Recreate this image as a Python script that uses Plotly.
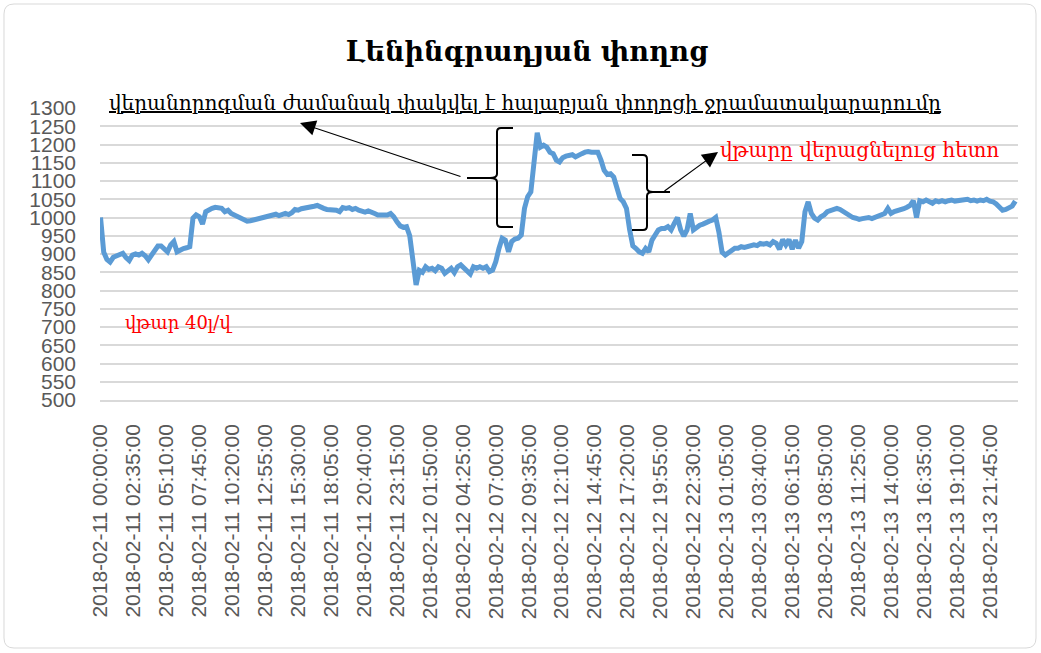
import pandas as pd
import plotly.graph_objects as go

# Flow readings, 15-minute steps, one list per day (l/s)
day_11_feb = [
    1000, 905, 885, 878,   891, 894, 897, 902,   890, 882, 897, 900,
    897, 902, 895, 884,    897, 911, 922, 922,   915, 906, 925, 934,
    906, 911, 915, 917,    920, 998, 1007, 1002, 982, 1016, 1022, 1025,
    1028, 1028, 1025, 1016, 1020, 1011, 1007, 1000, 997, 993, 990, 991,
    993, 994, 996, 998,    1002, 1002, 1007, 1009, 1005, 1009, 1011, 1008,
    1013, 1022, 1020, 1024, 1025, 1028, 1028, 1031, 1033, 1028, 1025, 1022,
    1022, 1020, 1020, 1016, 1027, 1025, 1027, 1022, 1025, 1020, 1018, 1015,
    1018, 1016, 1011, 1007, 1007, 1009, 1007, 1011, 1002, 988, 977, 973,
]
day_12_feb = [
    975, 950, 870, 815,    855, 850, 865, 858,   861, 854, 865, 861,
    847, 856, 861, 849,    865, 870, 863, 856,   845, 865, 861, 865,
    861, 865, 852, 856,    879, 915, 943, 938,   906, 934, 941, 943,
    952, 1025, 1057, 1070, 1166, 1232, 1193, 1198, 1193, 1179, 1175, 1157,
    1152, 1164, 1168, 1170, 1172, 1166, 1172, 1175, 1179, 1181, 1179, 1179,
    1179, 1157, 1129, 1118, 1120, 1111, 1084, 1052, 1043, 1025, 966, 922,
    915, 906, 902, 915,    906, 938, 952, 966,   970, 970, 975, 966,
    984, 1000, 966, 949,   966, 1011, 966, 973,  979, 982, 988, 990,
]
day_13_feb = [
    993, 1000, 960, 905,   897, 904, 911, 916,   916, 920, 918, 920,
    922, 925, 923, 929,    927, 929, 925, 934,   929, 913, 940, 925,
    940, 913, 938, 916,    934, 1016, 1043, 1011, 998, 993, 1002, 1007,
    1016, 1018, 1020, 1025, 1022, 1016, 1011, 1007, 1000, 998, 995, 997,
    998, 1000, 997, 1000,  1004, 1007, 1011, 1025, 1011, 1016, 1018, 1020,
    1024, 1028, 1033, 1046, 1000, 1046, 1043, 1048, 1043, 1039, 1046, 1043,
    1046, 1043, 1046, 1048, 1045, 1046, 1048, 1046, 1050, 1046, 1048, 1045,
    1048, 1046, 1050, 1045, 1043, 1037, 1028, 1020, 1022, 1025, 1031, 1045,
]

tick_labels = [
    "2018-02-11 00:00:00", "2018-02-11 02:35:00", "2018-02-11 05:10:00",
    "2018-02-11 07:45:00", "2018-02-11 10:20:00", "2018-02-11 12:55:00",
    "2018-02-11 15:30:00", "2018-02-11 18:05:00", "2018-02-11 20:40:00",
    "2018-02-11 23:15:00", "2018-02-12 01:50:00", "2018-02-12 04:25:00",
    "2018-02-12 07:00:00", "2018-02-12 09:35:00", "2018-02-12 12:10:00",
    "2018-02-12 14:45:00", "2018-02-12 17:20:00", "2018-02-12 19:55:00",
    "2018-02-12 22:30:00", "2018-02-13 01:05:00", "2018-02-13 03:40:00",
    "2018-02-13 06:15:00", "2018-02-13 08:50:00", "2018-02-13 11:25:00",
    "2018-02-13 14:00:00", "2018-02-13 16:35:00", "2018-02-13 19:10:00",
    "2018-02-13 21:45:00",
]

title_text = "Լենինգրադյան փողոց"
note_closed = "վերանորոգման ժամանակ փակվել է հալաբյան փողոցի ջրամատակարարումը"
note_after = "վթարը վերացնելուց հետո"
note_leak = "վթար 40լ/վ"

flow = day_11_feb + day_12_feb + day_13_feb
times = pd.date_range("2018-02-11 00:00", periods=len(flow), freq="15min")

W, H = 1041, 653
L, R, T, B = 100, 1018, 108, 400   # plot area in pixels


def pp(x, y):
    """pixel position -> paper coordinates"""
    return (x - L) / (R - L), (B - y) / (B - T)


def path(points):
    parts = []
    for cmd, *xy in points:
        coords = []
        for i in range(0, len(xy), 2):
            px_, py_ = pp(xy[i], xy[i + 1])
            coords.append(f"{px_:.5f},{py_:.5f}")
        parts.append(cmd + " ".join(coords))
    return " ".join(parts)


fig = go.Figure()
fig.add_trace(go.Scatter(
    x=times, y=flow, mode="lines",
    line=dict(color="#5B9BD5", width=5),
    hoverinfo="x+y", showlegend=False,
))

grey = "#595959"
fig.update_layout(
    width=W, height=H,
    margin=dict(l=L, r=W - R, t=T, b=H - B, pad=0),
    paper_bgcolor="white", plot_bgcolor="white",
    title=dict(text=f"<b>{title_text}</b>", x=527 / W, xref="container",
               xanchor="center", y=1 - 52 / H, yref="container", yanchor="middle",
               font=dict(family="DejaVu Serif", size=27, color="black")),
    font=dict(family="Liberation Sans", color=grey),
)

tick_vals = pd.to_datetime(tick_labels)
fig.update_xaxes(
    range=[times[0] - pd.Timedelta(minutes=2.5), pd.Timestamp("2018-02-13 23:57:30")],
    tickmode="array", tickvals=tick_vals, ticktext=tick_labels,
    tickangle=-90, tickfont=dict(size=21, color=grey, family="Liberation Sans"),
    showgrid=False, zeroline=False, showline=True, linecolor="#D9D9D9", linewidth=1.5,
    ticks="", ticklabelstandoff=14,
)
fig.update_yaxes(
    range=[500, 1300], tickmode="linear", tick0=500, dtick=50,
    tickfont=dict(size=21, color=grey, family="Liberation Sans"),
    showgrid=True, gridcolor="#D9D9D9", gridwidth=1.5,
    zeroline=False, showline=False, ticks="", ticklabelstandoff=23,
)

serif = "DejaVu Serif"
ann = []
x0, y0 = pp(107, 103)
ann.append(dict(x=x0, y=y0, xref="paper", yref="paper", text=f"<u>{note_closed}</u>",
                showarrow=False, xanchor="left", yanchor="middle",
                font=dict(family=serif, size=20, color="black")))
x0, y0 = pp(718, 150)
ann.append(dict(x=x0, y=y0, xref="paper", yref="paper", text=note_after,
                showarrow=False, xanchor="left", yanchor="middle",
                font=dict(family=serif, size=20, color="#FF0000")))
x0, y0 = pp(123, 322)
ann.append(dict(x=x0, y=y0, xref="paper", yref="paper", text=note_leak,
                showarrow=False, xanchor="left", yanchor="middle",
                font=dict(family=serif, size=18, color="#FF0000")))

# arrows from the braces to the notes
for (hx, hy), (tx, ty) in [((300, 123), (462, 177)), ((718, 152), (663, 192))]:
    x0, y0 = pp(hx, hy)
    ann.append(dict(x=x0, y=y0, xref="paper", yref="paper", text="",
                    showarrow=True, arrowhead=2, arrowsize=2.6, arrowwidth=1.2,
                    arrowcolor="black", ax=tx - hx, ay=ty - hy, standoff=0))
fig.update_layout(annotations=ann)

shapes = []
# opening brace around the repair period
shapes.append(dict(type="path", xref="paper", yref="paper",
                   path=path([("M", 513, 128), ("L", 501, 128), ("Q", 497, 128, 497, 132),
                              ("L", 497, 174), ("Q", 497, 178, 490, 178),
                              ("Q", 497, 178, 497, 182), ("L", 497, 223),
                              ("Q", 497, 227, 501, 227), ("L", 513, 227)]),
                   line=dict(color="black", width=2)))
shapes.append(dict(type="line", xref="paper", yref="paper",
                   x0=pp(467, 178)[0], y0=pp(467, 178)[1], x1=pp(490, 178)[0], y1=pp(490, 178)[1],
                   line=dict(color="black", width=2)))
# closing brace after the repair
shapes.append(dict(type="path", xref="paper", yref="paper",
                   path=path([("M", 632, 155), ("L", 643, 155), ("Q", 647, 155, 647, 159),
                              ("L", 647, 188), ("Q", 647, 192, 653, 192),
                              ("Q", 647, 192, 647, 196), ("L", 647, 226),
                              ("Q", 647, 230, 643, 230), ("L", 632, 230)]),
                   line=dict(color="black", width=2)))
shapes.append(dict(type="line", xref="paper", yref="paper",
                   x0=pp(653, 192)[0], y0=pp(653, 192)[1], x1=pp(670, 192)[0], y1=pp(670, 192)[1],
                   line=dict(color="black", width=2)))
# chart frame
r = 10
shapes.append(dict(type="path", xref="paper", yref="paper", layer="below",
                   path=path([("M", 4 + r, 4), ("L", 1036 - r, 4), ("Q", 1036, 4, 1036, 4 + r),
                              ("L", 1036, 648 - r), ("Q", 1036, 648, 1036 - r, 648),
                              ("L", 4 + r, 648), ("Q", 4, 648, 4, 648 - r),
                              ("L", 4, 4 + r), ("Q", 4, 4, 4 + r, 4), ("Z",)]),
                   line=dict(color="#D9D9D9", width=1)))
fig.update_layout(shapes=shapes)

fig.write_html("out.html")
